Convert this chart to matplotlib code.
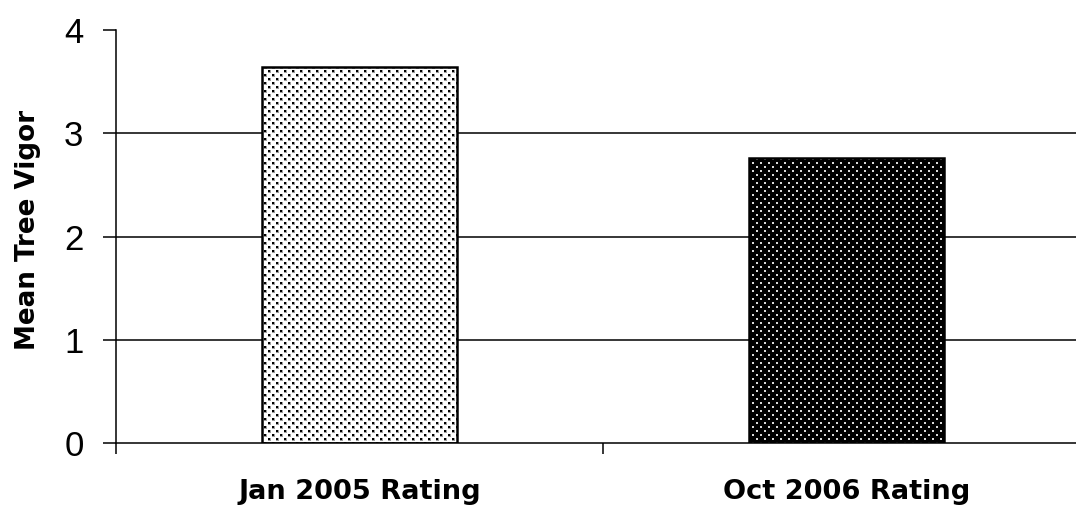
import matplotlib
matplotlib.use("Agg")
import matplotlib.pyplot as plt
import numpy as np

categories = ["Jan 2005 Rating", "Oct 2006 Rating"]
vigor = [3.64, 2.76]
yticks = [0, 1, 2, 3, 4]

plt.rcParams["font.family"] = ["Liberation Sans", "DejaVu Sans"]

FW, FH = 1076, 508
AX_L, AX_B, AX_W, AX_H = 116, 65, 974, 413

fig = plt.figure(figsize=(FW / 100, FH / 100), dpi=100)
ax = fig.add_axes([AX_L / FW, AX_B / FH, AX_W / FW, AX_H / FH])

x = list(range(len(categories)))
width = 0.4
xlim = (-0.5, 1.5)
ylim = (0, 4)

# gridlines behind the bars
for v in yticks[1:-1]:
    ax.axhline(v, color="black", lw=1.1, zorder=1)


def stipple(dot_on_white):
    """Staggered dot screen (8 px cell, half-offset rows) covering the axes."""
    yy, xx = np.mgrid[0:AX_H, 0:AX_W]

    def lattice(w, h):
        return (((xx % 8) < w) & ((yy % 8) < h)) | \
               ((((xx + 4) % 8) < w) & (((yy + 4) % 8) < h))

    core = lattice(2, 2)
    if dot_on_white:
        soft = lattice(3, 3) & ~core
        img = np.ones((AX_H, AX_W))
        img[soft] = 0.62
        img[core] = 0.0
    else:
        img = np.zeros((AX_H, AX_W))
        img[core] = 0.85
    return img


bars = ax.bar(x, vigor, width=width, facecolor="white", edgecolor="none", zorder=2)
for patch, light in zip(bars.patches, [True, False]):
    im = ax.imshow(stipple(light), cmap="gray", vmin=0, vmax=1,
                   extent=(*xlim, *ylim), aspect="auto",
                   interpolation="nearest", zorder=2.5)
    im.set_clip_path(patch)

# outlines
ax.bar(x, vigor, width=width, facecolor="none", edgecolor="black", lw=1.8, zorder=3)

ax.set_xlim(*xlim)
ax.set_ylim(*ylim)

for s in ["top", "right"]:
    ax.spines[s].set_visible(False)
ax.spines["left"].set_linewidth(1.1)
ax.spines["bottom"].set_linewidth(1.1)

ax.set_yticks(yticks)
ax.set_yticklabels([str(t) for t in yticks], fontsize=25, family="Liberation Sans")
ax.tick_params(axis="y", direction="out", length=9.4, width=1.1, pad=14)

bold = dict(family="DejaVu Sans", fontweight="bold")

ax.set_xticks(x)
ax.set_xticklabels(categories, fontsize=19.6, **bold)
ax.tick_params(axis="x", which="major", length=0, pad=26)
ax.set_xticks([-0.5, 0.5, 1.5], minor=True)
ax.tick_params(axis="x", which="minor", direction="out", length=8, width=1.1)

ax.set_ylabel("Mean Tree Vigor", fontsize=18.8, **bold)
ax.yaxis.set_label_coords(-0.0775, 0.516)

fig.savefig("out.png", dpi=100)
